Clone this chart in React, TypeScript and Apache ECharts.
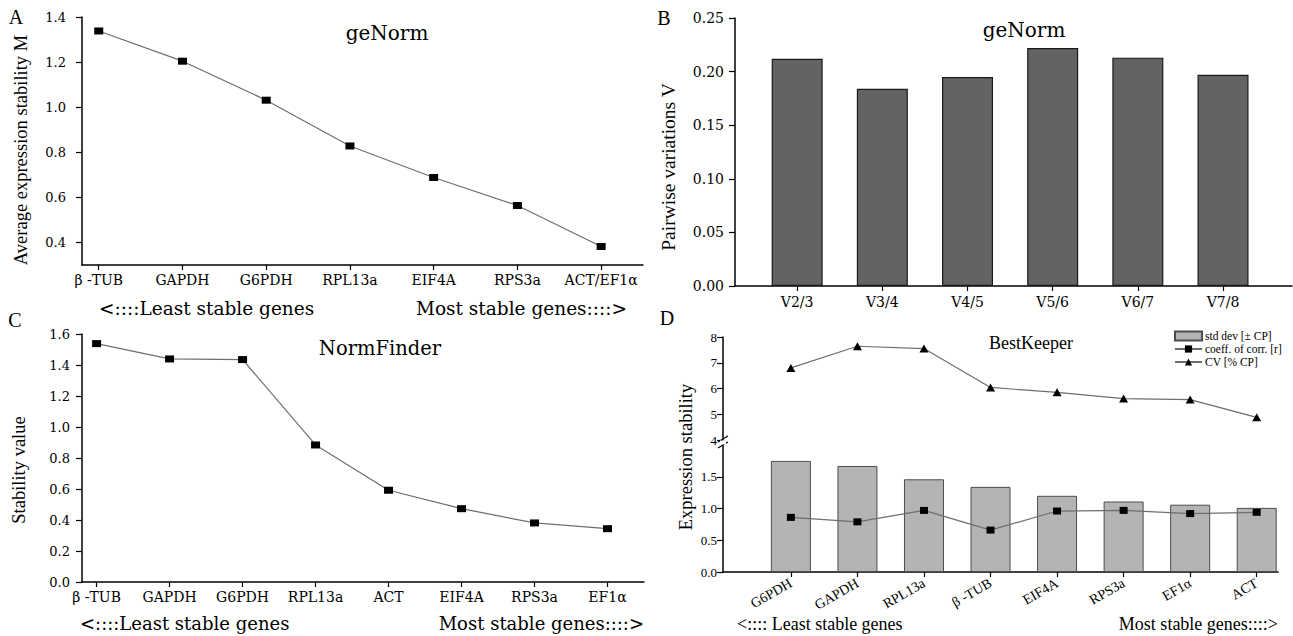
import React, { useEffect, useRef } from "react";
import * as echarts from "echarts";

// Panel A (geNorm M)
const catsA = ["β -TUB", "GAPDH", "G6PDH", "RPL13a", "EIF4A", "RPS3a", "ACT/EF1α"];
const valsA = [1.338, 1.204, 1.031, 0.828, 0.688, 0.564, 0.382];
const yTicksA = [0.4, 0.6, 0.8, 1.0, 1.2, 1.4];
// Panel B (geNorm V)
const catsB = ["V2/3", "V3/4", "V4/5", "V5/6", "V6/7", "V7/8"];
const valsB = [0.212, 0.184, 0.195, 0.222, 0.213, 0.197];
const yTicksB = [0, 0.05, 0.1, 0.15, 0.2, 0.25];
// Panel C (NormFinder)
const catsC = ["β -TUB", "GAPDH", "G6PDH", "RPL13a", "ACT", "EIF4A", "RPS3a", "EF1α"];
const valsC = [1.538, 1.439, 1.435, 0.884, 0.592, 0.473, 0.381, 0.344];
const yTicksC = [0, 0.2, 0.4, 0.6, 0.8, 1.0, 1.2, 1.4, 1.6];
// Panel D (BestKeeper)
const catsD = ["G6PDH", "GAPDH", "RPL13a", "β -TUB", "EIF4A", "RPS3a", "EF1α", "ACT"];
const stdDevD = [1.75, 1.67, 1.46, 1.34, 1.2, 1.11, 1.06, 1.01];
const corrD = [0.86, 0.79, 0.97, 0.66, 0.96, 0.97, 0.92, 0.94];
const cvD = [6.8, 7.64, 7.55, 6.04, 5.85, 5.61, 5.57, 4.88];
const yTicksDHigh = [4, 5, 6, 7, 8];
const yTicksDLow = [0, 0.5, 1.0, 1.5];

const SERIF_W = "DejaVu Serif";
const SERIF = "Liberation Serif";

const idx = (arr: any[]) => arr.map((_, i) => i);
const pairs = (vals: number[]) => vals.map((v, i) => [i, v]);

function xAxis(gridIndex: number, cats: string[], min: number, max: number, label: any) {
  return {
    type: "value",
    gridIndex,
    min,
    max,
    axisLine: { show: true, onZero: false, lineStyle: { color: "#000", width: 1.5 } },
    axisTick: { show: true, customValues: idx(cats), length: 5, lineStyle: { color: "#000", width: 1.2 } },
    axisLabel: {
      customValues: idx(cats),
      formatter: (v: number) => cats[Math.round(v)],
      color: "#000",
      ...label,
    },
    splitLine: { show: false },
  };
}

function yAxis(gridIndex: number, min: number, max: number, ticks: number[], digits: number, label: any) {
  return {
    type: "value",
    gridIndex,
    min,
    max,
    axisLine: { show: true, onZero: false, lineStyle: { color: "#000", width: 1.5 } },
    axisTick: { show: true, customValues: ticks, length: 6, lineStyle: { color: "#000", width: 1.2 } },
    axisLabel: {
      customValues: ticks,
      formatter: (v: number) => v.toFixed(digits),
      color: "#000",
      ...label,
    },
    splitLine: { show: false },
  };
}

function txt(text: string, x: number, y: number, size: number, family: string, align = "center", rotate = 0) {
  return {
    type: "text",
    x,
    y,
    rotation: rotate,
    style: {
      text,
      fontSize: size,
      fontFamily: family,
      fill: "#000",
      align,
      verticalAlign: "middle",
      textAlign: align,
      textVerticalAlign: "middle",
    },
  };
}

export default function App() {
  const ref = useRef<HTMLDivElement>(null);
  useEffect(() => {
    if (!ref.current) return;
    const chart = echarts.init(ref.current, undefined, { renderer: "svg" });
    const lblA = { fontFamily: SERIF_W, fontSize: 14, margin: 8 };
    const lineStyle = { color: "#6e6e6e", width: 1.2 };
    const option: any = {
      animation: false,
      backgroundColor: "#fff",
      grid: [
        { left: 82, top: 17, width: 561, height: 248 },
        { left: 735, top: 18, width: 557, height: 268 },
        { left: 82, top: 334, width: 562, height: 248 },
        { left: 723, top: 337, width: 555, height: 103 },
        { left: 723, top: 445, width: 555, height: 127 },
      ],
      xAxis: [
        xAxis(0, catsA, -0.2, 6.5, lblA),
        xAxis(1, catsB, -0.73, 5.81, { fontFamily: SERIF_W, fontSize: 14, margin: 9 }),
        xAxis(2, catsC, -0.2, 7.5, lblA),
        { ...xAxis(3, catsD, -1.02, 7.32, {}), show: false },
        xAxis(4, catsD, -1.02, 7.32, { fontFamily: SERIF, fontSize: 14, margin: 10, rotate: 30 }),
      ],
      yAxis: [
        yAxis(0, 0.3, 1.4, yTicksA, 1, { fontFamily: SERIF_W, fontSize: 13, margin: 16 }),
        yAxis(1, 0, 0.25, yTicksB, 2, { fontFamily: SERIF_W, fontSize: 14, margin: 11 }),
        yAxis(2, 0, 1.6, yTicksC, 1, { fontFamily: SERIF_W, fontSize: 13, margin: 12 }),
        yAxis(3, 4, 8, yTicksDHigh, 0, { fontFamily: SERIF, fontSize: 13, margin: 6 }),
        yAxis(4, 0, 2, yTicksDLow, 1, { fontFamily: SERIF, fontSize: 13, margin: 6 }),
      ],
      legend: {
        orient: "vertical",
        left: 1174,
        top: 330,
        itemWidth: 27,
        itemHeight: 9,
        itemGap: 1,
        padding: 0,
        textStyle: { fontFamily: SERIF, fontSize: 11.5, color: "#000", padding: [0, 0, 0, -2] },
        data: [{ name: "std dev [± CP]", icon: "rect" }, "coeff. of corr. [r]", "CV [% CP]"],
      },
      series: [
        {
          type: "line",
          xAxisIndex: 0,
          yAxisIndex: 0,
          data: pairs(valsA),
          symbol: "rect",
          symbolSize: [9, 7],
          itemStyle: { color: "#000" },
          lineStyle,
        },
        {
          type: "bar",
          xAxisIndex: 1,
          yAxisIndex: 1,
          data: pairs(valsB),
          barWidth: 51,
          itemStyle: { color: "#636363", borderColor: "#1a1a1a", borderWidth: 1.2 },
        },
        {
          type: "line",
          xAxisIndex: 2,
          yAxisIndex: 2,
          data: pairs(valsC),
          symbol: "rect",
          symbolSize: [9, 7],
          itemStyle: { color: "#000" },
          lineStyle,
        },
        {
          name: "std dev [± CP]",
          type: "bar",
          xAxisIndex: 4,
          yAxisIndex: 4,
          data: pairs(stdDevD),
          barWidth: 40,
          itemStyle: { color: "#b4b4b4", borderColor: "#4d4d4d", borderWidth: 1 },
        },
        {
          name: "coeff. of corr. [r]",
          type: "line",
          xAxisIndex: 4,
          yAxisIndex: 4,
          data: pairs(corrD),
          symbol: "rect",
          symbolSize: [8, 7],
          itemStyle: { color: "#000" },
          lineStyle,
          z: 5,
        },
        {
          name: "CV [% CP]",
          type: "line",
          xAxisIndex: 3,
          yAxisIndex: 3,
          data: pairs(cvD),
          symbol: "triangle",
          symbolSize: [9, 8],
          itemStyle: { color: "#000" },
          lineStyle,
        },
      ],
      graphic: [
        txt("A", 16, 17, 20, SERIF),
        txt("geNorm", 387, 33, 20, SERIF_W),
        txt("Average expression stability M", 21, 150, 18.5, SERIF, "center", Math.PI / 2),
        txt("<::::Least stable genes", 99, 308, 18.5, SERIF_W, "left"),
        txt("Most stable genes::::>", 627, 308, 18.5, SERIF_W, "right"),
        txt("B", 664, 18, 20, SERIF),
        txt("geNorm", 1024, 30, 20, SERIF_W),
        txt("Pairwise variations V", 668, 167, 19.5, SERIF, "center", Math.PI / 2),
        txt("C", 15, 320, 20, SERIF),
        txt("NormFinder", 380, 348, 19.5, SERIF_W),
        txt("Stability value", 19, 470, 18.5, SERIF, "center", Math.PI / 2),
        txt("<::::Least stable genes", 80, 623, 18, SERIF_W, "left"),
        txt("Most stable genes::::>", 644, 623, 18, SERIF_W, "right"),
        txt("D", 667, 318, 20, SERIF),
        txt("BestKeeper", 1031, 343, 18, SERIF),
        txt("Expression stability", 686, 457, 18.5, SERIF, "center", Math.PI / 2),
        txt("<:::: Least stable genes", 737, 624, 18, SERIF, "left"),
        txt("Most stable genes::::>", 1278, 624, 18, SERIF, "right"),
        { type: "line", shape: { x1: 718, y1: 442, x2: 728, y2: 436 }, style: { stroke: "#000", lineWidth: 1.2 } },
        { type: "line", shape: { x1: 718, y1: 448, x2: 728, y2: 442 }, style: { stroke: "#000", lineWidth: 1.2 } },
        { type: "rect", shape: { x: 720, y: 440.5, width: 6, height: 4 }, style: { fill: "#fff" }, z: 100 },
      ],
    };
    chart.setOption(option);
    return () => chart.dispose();
  }, []);
  return <div ref={ref} style={{ position: "absolute", left: 0, top: 0, width: 1293, height: 636 }} />;
}
